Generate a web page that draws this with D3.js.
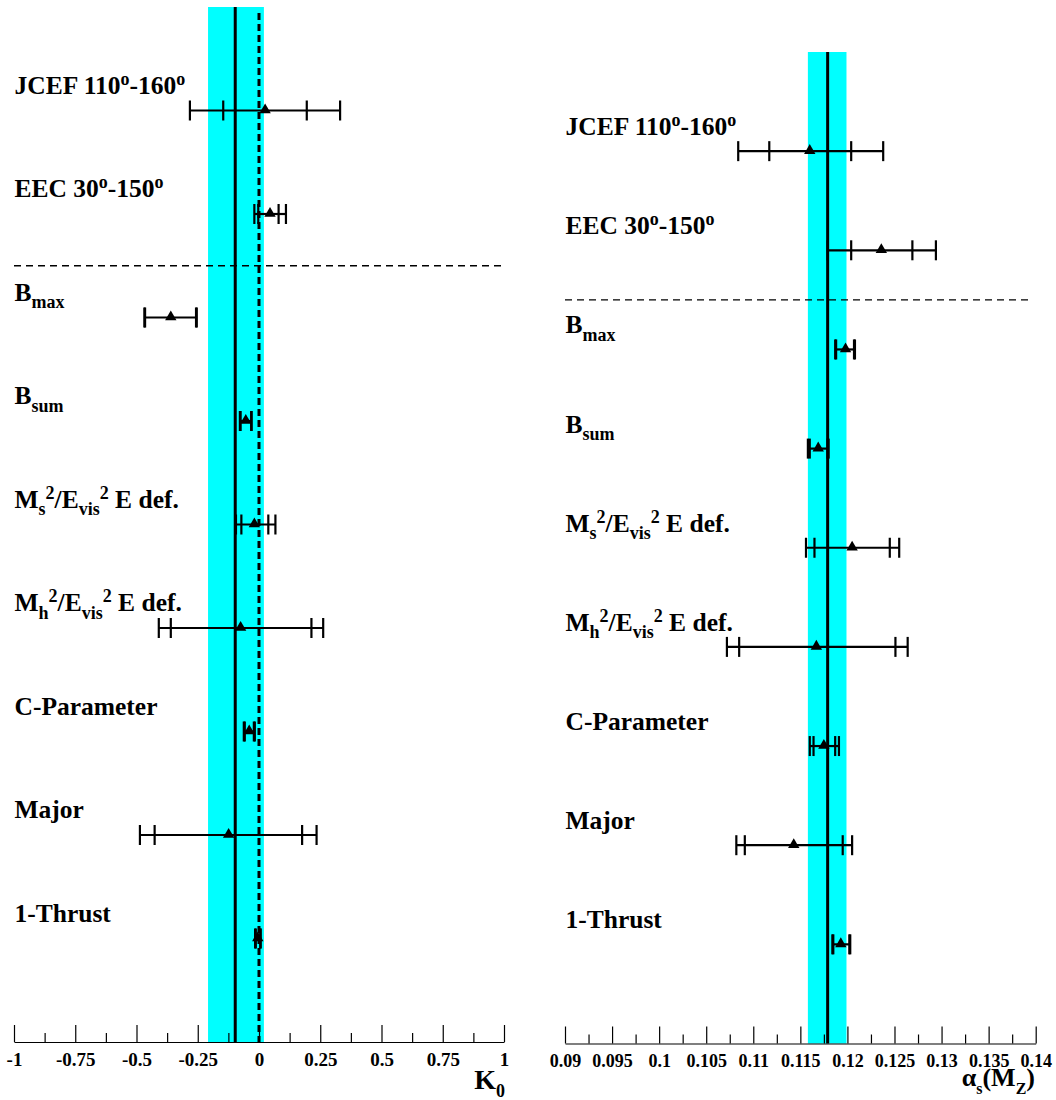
<!DOCTYPE html>
<html>
<head>
<meta charset="utf-8">
<script src="https://cdn.jsdelivr.net/npm/d3@7"></script>
<style>
  html, body { margin: 0; padding: 0; background: #fff; }
  svg { display: block; }
  text { font-family: "Liberation Serif", "Times New Roman", serif; font-weight: bold; fill: #000; }
</style>
</head>
<body>
<svg id="chart" width="1056" height="1100"></svg>
<script>
// ---------------- data ----------------
const categories = ["JCEF 110-160", "EEC 30-150", "Bmax", "Bsum", "Ms2/Evis2 E def.", "Mh2/Evis2 E def.", "C-Parameter", "Major", "1-Thrust"];

// rich label pieces: [text, mode]  mode: n = normal, sub, sup
const labelPieces = [
  [["JCEF 110","n"],["o","sup"],["-160","n"],["o","sup"]],
  [["EEC 30","n"],["o","sup"],["-150","n"],["o","sup"]],
  [["B","n"],["max","sub"]],
  [["B","n"],["sum","sub"]],
  [["M","n"],["s","sub"],["2","sup"],["/E","n"],["vis","sub"],["2","sup"],[" E def.","n"]],
  [["M","n"],["h","sub"],["2","sup"],["/E","n"],["vis","sub"],["2","sup"],[" E def.","n"]],
  [["C-Parameter","n"]],
  [["Major","n"]],
  [["1-Thrust","n"]]
];

// K0 panel
const k0Value   = [0.025, 0.045, -0.360, -0.054, -0.019, -0.075, -0.040, -0.124, -0.005];
const k0InnerLo = [-0.146, -0.003, -0.465, -0.075, -0.072, -0.360, -0.058, -0.426, -0.013];
const k0InnerHi = [0.195, 0.080, -0.257, -0.032, 0.038, 0.214, -0.021, 0.176, 0.005];
const k0OuterLo = [-0.282, -0.019, -0.468, -0.078, -0.094, -0.409, -0.062, -0.486, -0.016];
const k0OuterHi = [0.331, 0.110, -0.254, -0.030, 0.067, 0.262, -0.017, 0.235, 0.007];
const k0Mean = -0.097;
const k0Band = [-0.208, 0.020];
const k0Ref = 0;
const k0Ticks = [-1, -0.75, -0.5, -0.25, 0, 0.25, 0.5, 0.75, 1];
const k0TickLabels = ["-1", "-0.75", "-0.5", "-0.25", "0", "0.25", "0.5", "0.75", "1"];
const k0Minor = [-0.875, -0.625, -0.375, -0.125, 0.125, 0.375, 0.625, 0.875];

// alpha_s panel
const asValue   = [0.1160, 0.1236, 0.1198, 0.1169, 0.1205, 0.1167, 0.1175, 0.1143, 0.1193];
const asInnerLo = [0.1117, 0.1204, 0.1188, 0.1160, 0.1165, 0.1085, 0.1164, 0.1091, 0.1185];
const asInnerHi = [0.1204, 0.1269, 0.1207, 0.1179, 0.1245, 0.1251, 0.1187, 0.1195, 0.1202];
const asOuterLo = [0.1084, 0.1179, 0.1187, 0.1158, 0.1156, 0.1072, 0.1160, 0.1082, 0.1184];
const asOuterHi = [0.1238, 0.1294, 0.1208, 0.1180, 0.1255, 0.1264, 0.1191, 0.1205, 0.1203];
const asMean = 0.1179;
const asBand = [0.1158, 0.1199];
const asTicks = [0.09, 0.095, 0.1, 0.105, 0.11, 0.115, 0.12, 0.125, 0.13, 0.135, 0.14];
const asTickLabels = ["0.09", "0.095", "0.1", "0.105", "0.11", "0.115", "0.12", "0.125", "0.13", "0.135", "0.14"];
const asMinor = [0.0925, 0.0975, 0.1025, 0.1075, 0.1125, 0.1175, 0.1225, 0.1275, 0.1325, 0.1375];

// ---------------- drawing ----------------
const svg = d3.select("#chart");

function richText(sel, pieces, sizes, shifts) {
  let cur = 0;
  pieces.forEach(([t, mode]) => {
    const target = shifts[mode];
    sel.append("tspan")
      .attr("dy", target - cur)
      .attr("font-size", sizes[mode])
      .text(t);
    cur = target;
  });
}

function panel(cfg) {
  const g = svg.append("g");
  const x = d3.scaleLinear().domain(cfg.domain).range(cfg.xRange);
  const y = d3.scalePoint().domain(categories).range([cfg.top, cfg.axisY]).padding(1);
  const top = cfg.top, bottom = cfg.axisY;

  // band
  g.append("rect")
    .attr("x", x(cfg.band[0])).attr("width", x(cfg.band[1]) - x(cfg.band[0]))
    .attr("y", top).attr("height", bottom - top)
    .attr("fill", "#00ffff");

  // separator dashed line between EEC and Bmax
  const sepY = (y(categories[1]) + y(categories[2])) / 2;
  g.append("line")
    .attr("x1", x(cfg.domain[0])).attr("x2", cfg.sepEnd)
    .attr("y1", sepY).attr("y2", sepY)
    .attr("stroke", "#000").attr("stroke-width", 1.4).attr("stroke-dasharray", "7,5");

  // mean line
  g.append("line")
    .attr("x1", x(cfg.mean)).attr("x2", x(cfg.mean))
    .attr("y1", top).attr("y2", bottom)
    .attr("stroke", "#000").attr("stroke-width", 3);

  if (cfg.ref !== undefined) {
    g.append("line")
      .attr("x1", x(cfg.ref)).attr("x2", x(cfg.ref))
      .attr("y1", top + 6).attr("y2", bottom)
      .attr("stroke", "#000").attr("stroke-width", 3).attr("stroke-dasharray", "7,4");
  }

  // labels
  categories.forEach((c, i) => {
    const t = g.append("text")
      .attr("x", cfg.labelX)
      .attr("y", y(c) + cfg.labelDy);
    richText(t, labelPieces[i], {n: 25.5, sub: 18, sup: 18}, {n: 0, sub: 7.5, sup: -9});
  });

  // error bars
  const rows = categories.map((c, i) => ({
    c, v: cfg.value[i], il: cfg.innerLo[i], ih: cfg.innerHi[i], ol: cfg.outerLo[i], oh: cfg.outerHi[i]
  }));
  const eb = g.append("g").attr("stroke", "#000").attr("stroke-width", 2.2);
  rows.forEach(r => {
    const yy = y(r.c);
    eb.append("line").attr("x1", x(r.ol)).attr("x2", x(r.oh)).attr("y1", yy).attr("y2", yy);
    [r.ol, r.il, r.ih, r.oh].forEach(v => {
      eb.append("line").attr("x1", x(v)).attr("x2", x(v)).attr("y1", yy - 10).attr("y2", yy + 10);
    });
  });
  // triangle markers
  const tri = d3.symbol().type(d3.symbolTriangle).size(56);
  g.selectAll("path.pt").data(rows).join("path")
    .attr("class", "pt")
    .attr("d", tri)
    .attr("transform", r => `translate(${x(r.v)},${y(r.c) - 0.5})`)
    .attr("fill", "#000");

  // axis: major ticks
  const axMaj = g.append("g").attr("transform", `translate(0,${cfg.axisY})`)
    .call(d3.axisBottom(x).tickValues(cfg.ticks).tickSize(-17).tickSizeOuter(0)
      .tickFormat((d, i) => cfg.tickLabels[i]));
  axMaj.select(".domain").attr("stroke", "#000").attr("stroke-width", 1.2);
  axMaj.selectAll(".tick line").attr("stroke", "#000").attr("stroke-width", 1.2);
  axMaj.selectAll(".tick text")
    .attr("y", cfg.tickTextY).attr("dy", 0)
    .attr("font-size", cfg.tickFont)
    .style("font-family", '"Liberation Serif", "Times New Roman", serif')
    .style("font-weight", "bold")
    .attr("fill", "#000");
  const axMin = g.append("g").attr("transform", `translate(0,${cfg.axisY})`)
    .call(d3.axisBottom(x).tickValues(cfg.minor).tickSize(-9).tickSizeOuter(0).tickFormat(""));
  axMin.select(".domain").remove();
  axMin.selectAll(".tick line").attr("stroke", "#000").attr("stroke-width", 1.2);

  // axis title
  const tt = g.append("text").attr("x", cfg.titleX).attr("y", cfg.titleY).attr("text-anchor", "end");
  richText(tt, cfg.title, cfg.titleSizes, cfg.titleShifts);
}

panel({
  domain: [-1, 1], xRange: [14, 504], top: 7, axisY: 1042, sepEnd: 502,
  band: k0Band, mean: k0Mean, ref: k0Ref,
  value: k0Value, innerLo: k0InnerLo, innerHi: k0InnerHi, outerLo: k0OuterLo, outerHi: k0OuterHi,
  ticks: k0Ticks, tickLabels: k0TickLabels, minor: k0Minor,
  labelX: 14.5, labelDy: -17,
  tickTextY: 24, tickFont: 19,
  title: [["K","n"],["0","sub"]], titleX: 505, titleY: 1089,
  titleSizes: {n: 28, sub: 18}, titleShifts: {n: 0, sub: 8}
});

panel({
  domain: [0.09, 0.14], xRange: [565, 1035.7], top: 52, axisY: 1043.5, sepEnd: 1033,
  band: asBand, mean: asMean,
  value: asValue, innerLo: asInnerLo, innerHi: asInnerHi, outerLo: asOuterLo, outerHi: asOuterHi,
  ticks: asTicks, tickLabels: asTickLabels, minor: asMinor,
  labelX: 565.5, labelDy: -16,
  tickTextY: 23, tickFont: 18,
  title: [["α","n"],["s","sub"],["(M","n"],["Z","sub"],[")","n"]], titleX: 1035, titleY: 1086,
  titleSizes: {n: 26, sub: 16}, titleShifts: {n: 0, sub: 8}
});
</script>
</body>
</html>
